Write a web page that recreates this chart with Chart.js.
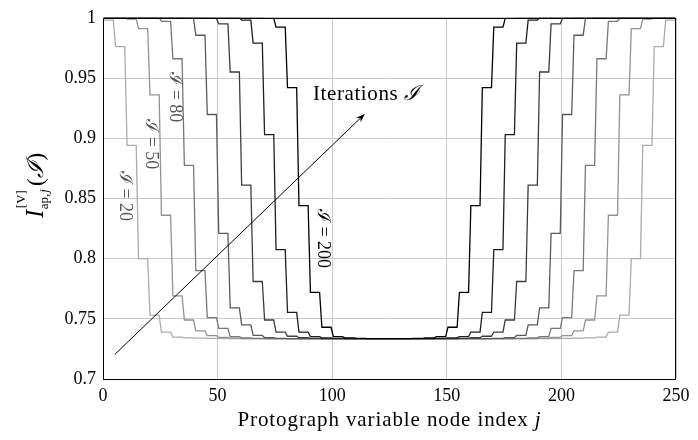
<!DOCTYPE html>
<html><head><meta charset="utf-8">
<script src="https://cdn.jsdelivr.net/npm/chart.js@4/dist/chart.umd.min.js"></script>
<style>html,body{margin:0;padding:0;background:#fff}</style>
</head><body>
<canvas id="c" width="698" height="440"></canvas>
<script>
// ---- data ----
const xTicks = [0, 50, 100, 150, 200, 250];
const yTicks = [0.7, 0.75, 0.8, 0.85, 0.9, 0.95, 1];
const BLOCK = 5; // variable nodes per protograph position (block j = nodes 5k..5k+5)

// mutual information per block of 5 variable nodes (50 blocks)
const I20 = [0.998,0.976,0.894,0.800,0.753,0.739,0.7348,0.7342,0.7339,0.7337,0.7336,
 0.7335,0.7335,0.7335,0.7335,0.7335,0.7335,0.7335,0.7335,0.7335,0.7335,0.7335,0.7335,0.7335,0.7335,
 0.7335,0.7335,0.7335,0.7335,0.7335,0.7335,0.7335,0.7335,0.7335,0.7335,0.7335,0.7335,0.7335,0.7335,
 0.7336,0.7337,0.7339,0.7342,0.7348,0.739,0.753,0.800,0.894,0.976,0.998];
const I50 = [1,1,0.999,0.991,0.936,0.836,0.769,0.749,0.740,0.736,0.7345,0.734,
 0.7335,0.7335,0.7335,0.7335,0.7335,0.7335,0.7335,0.7335,0.7335,0.7335,0.7335,0.7335,0.7335,
 0.7335,0.7335,0.7335,0.7335,0.7335,0.7335,0.7335,0.7335,0.7335,0.7335,0.7335,0.7335,0.7335,
 0.734,0.7345,0.736,0.740,0.749,0.769,0.836,0.936,0.991,0.999,1,1];
const I80 = [1,1,1,1,1,0.997,0.966,0.8775,0.790,0.751,0.742,0.7352,0.7342,0.7338,
 0.7335,0.7335,0.7335,0.7335,0.7335,0.7335,0.7335,0.7335,0.7335,0.7335,0.7335,
 0.7335,0.7335,0.7335,0.7335,0.7335,0.7335,0.7335,0.7335,0.7335,0.7335,0.7335,
 0.7338,0.7342,0.7352,0.742,0.751,0.790,0.8775,0.966,0.997,1,1,1,1,1];
const I110 = [1,1,1,1,1,1,1,0.9995,0.9855,0.9197,0.821,0.759,0.745,0.7362,0.7343,0.7338,
 0.7335,0.7335,0.7335,0.7335,0.7335,0.7335,0.7335,0.7335,0.7335,
 0.7335,0.7335,0.7335,0.7335,0.7335,0.7335,0.7335,0.7335,0.7335,
 0.7338,0.7343,0.7362,0.745,0.759,0.821,0.9197,0.9855,0.9995,1,1,1,1,1,1,1];
const I140 = [1,1,1,1,1,1,1,1,1,0.9995,0.995,0.955,0.861,0.781,0.749,0.739,0.7355,0.7343,0.7338,
 0.7335,0.7335,0.7335,0.7335,0.7335,0.7335,0.7335,0.7335,0.7335,0.7335,0.7335,0.7335,
 0.7338,0.7343,0.7355,0.739,0.749,0.781,0.861,0.955,0.995,0.9995,1,1,1,1,1,1,1,1,1];
const I170 = [1,1,1,1,1,1,1,1,1,1,1,1,0.998,0.979,0.903,0.8074,0.7553,0.739,0.7352,0.7342,0.7338,
 0.7335,0.7335,0.7335,0.7335,0.7335,0.7335,0.7335,0.7335,
 0.7338,0.7342,0.7352,0.739,0.7553,0.8074,0.903,0.979,0.998,1,1,1,1,1,1,1,1,1,1,1,1];
const I200 = [1,1,1,1,1,1,1,1,1,1,1,1,1,1,0.9995,0.9923,0.942,0.844,0.772,0.743,0.7352,0.7342,0.7338,
 0.7335,0.7335,0.7335,0.7335,
 0.7338,0.7342,0.7352,0.743,0.772,0.844,0.942,0.9923,0.9995,1,1,1,1,1,1,1,1,1,1,1,1,1,1];

const iterationLabels = ['200','170','140','110','80','50','20'];
const iterationSeries = [I200, I170, I140, I110, I80, I50, I20];
const seriesColors = ['#000000','#1e1e1e','#3c3c3c','#5a5a5a','#787878','#939393','#ababab'];

// annotations (data coordinates)
const arrowFrom = [5.2, 0.7205];
const arrowTo = [114.3, 0.9203];
const iterText = {x: 91.6, y: 0.9318, text: 'Iterations '};
const curveLabels = [
  {x: 9.6,  y: 0.852,  text: 'ℐ = 20'},
  {x: 20.7, y: 0.895,  text: 'ℐ = 50'},
  {x: 31.2, y: 0.934,  text: 'ℐ = 80'},
  {x: 96.0, y: 0.8167, text: 'ℐ = 200'}
];

const SERIF = '"Liberation Serif", "Times New Roman", serif';

function blockPoints(vals) {
  const pts = [];
  vals.forEach((v, k) => {
    pts.push({x: k * BLOCK + 0.5, y: v});
    pts.push({x: k * BLOCK + BLOCK - 0.5, y: v});
  });
  return pts;
}

const datasets = iterationSeries.map((s, i) => ({
  label: 'ℐ = ' + iterationLabels[i],
  data: blockPoints(s),
  borderColor: seriesColors[i],
  borderWidth: 1.3,
  pointRadius: 0,
  tension: 0,
  fill: false
}));

const decor = {
  id: 'decor',
  afterDatasetsDraw(chart) {
    const {ctx, chartArea: a, scales: {x, y}} = chart;
    ctx.save();
    // frame
    ctx.strokeStyle = '#000'; ctx.lineWidth = 1;
    ctx.strokeRect(Math.round(a.left) + 0.5, Math.round(a.top) + 0.5,
                   Math.round(a.right - a.left) - 1 + 0, Math.round(a.bottom - a.top));
    // arrow
    const x0 = x.getPixelForValue(arrowFrom[0]), y0 = y.getPixelForValue(arrowFrom[1]);
    const x1 = x.getPixelForValue(arrowTo[0]), y1 = y.getPixelForValue(arrowTo[1]);
    const ang = Math.atan2(y1 - y0, x1 - x0);
    const L = 9, W = 3.2;
    ctx.beginPath(); ctx.moveTo(x0, y0);
    ctx.lineTo(x1 - Math.cos(ang) * L * 0.7, y1 - Math.sin(ang) * L * 0.7);
    ctx.lineWidth = 1; ctx.stroke();
    ctx.beginPath();
    ctx.moveTo(x1, y1);
    ctx.lineTo(x1 - Math.cos(ang) * L - Math.sin(ang) * W, y1 - Math.sin(ang) * L + Math.cos(ang) * W);
    ctx.lineTo(x1 - Math.cos(ang) * L * 0.7, y1 - Math.sin(ang) * L * 0.7);
    ctx.lineTo(x1 - Math.cos(ang) * L + Math.sin(ang) * W, y1 - Math.sin(ang) * L - Math.cos(ang) * W);
    ctx.closePath(); ctx.fillStyle = '#000'; ctx.fill();
    // Iterations text
    ctx.fillStyle = '#000';
    ctx.textBaseline = 'alphabetic'; ctx.textAlign = 'left';
    try { ctx.letterSpacing = '0.6px'; } catch (e) {}
    ctx.font = '21px ' + SERIF;
    const tx = x.getPixelForValue(iterText.x), ty = y.getPixelForValue(iterText.y);
    ctx.fillText(iterText.text, tx, ty);
    const tw = ctx.measureText(iterText.text).width;
    ctx.font = 'italic 21px ' + SERIF;
    ctx.fillText('ℐ', tx + tw, ty);
    try { ctx.letterSpacing = '0px'; } catch (e) {}
    // rotated curve labels
    ctx.font = '18px ' + SERIF;
    ctx.textAlign = 'center'; ctx.textBaseline = 'middle';
    curveLabels.forEach((l, i) => {
      ctx.save();
      ctx.translate(x.getPixelForValue(l.x), y.getPixelForValue(l.y));
      ctx.rotate(Math.PI / 2);
      ctx.fillStyle = i === 3 ? '#000' : '#555';
      ctx.fillText(l.text, 0, 0);
      ctx.restore();
    });
    ctx.restore();

    // x axis title
    ctx.save();
    ctx.fillStyle = '#000';
    try { ctx.letterSpacing = '0.9px'; } catch (e) {}
    ctx.font = '21px ' + SERIF;
    ctx.textBaseline = 'alphabetic'; ctx.textAlign = 'left';
    const t1 = 'Protograph variable node index ';
    const w1 = ctx.measureText(t1).width;
    ctx.font = 'italic 21px ' + SERIF;
    const w2 = ctx.measureText('j').width;
    const cx = (a.left + a.right) / 2;
    const sx = cx - (w1 + w2) / 2;
    ctx.font = '21px ' + SERIF;
    ctx.fillText(t1, sx, 426);
    ctx.font = 'italic 21px ' + SERIF;
    ctx.fillText('j', sx + w1, 426);
    try { ctx.letterSpacing = '0px'; } catch (e) {}
    ctx.restore();

    // y axis title: I^{[V]}_{ap,j}(ℐ)
    ctx.save();
    ctx.fillStyle = '#000';
    const cy = (a.top + a.bottom) / 2;
    ctx.translate(43, 218);
    ctx.rotate(-Math.PI / 2);
    ctx.textBaseline = 'alphabetic'; ctx.textAlign = 'left';
    ctx.font = 'italic 25px ' + SERIF;
    ctx.fillText('I', 0, 0);
    let p = ctx.measureText('I').width + 1.5;
    ctx.font = '13px ' + SERIF;
    ctx.fillText('[V]', p, -18);
    const supW = ctx.measureText('[V]').width;
    ctx.fillText('ap,', p - 1, 5);
    let subW = ctx.measureText('ap,').width;
    ctx.font = 'italic 13px ' + SERIF;
    ctx.fillText('j', p - 1 + subW + 1, 5);
    subW += ctx.measureText('j').width + 1;
    p += Math.max(supW, subW) + 2;
    ctx.font = '23px ' + SERIF;
    ctx.fillText('(', p, 0);
    p += ctx.measureText('(').width;
    ctx.font = 'italic 23px ' + SERIF;
    ctx.fillText('ℐ', p, 0);
    p += ctx.measureText('ℐ').width + 1;
    ctx.font = '23px ' + SERIF;
    ctx.fillText(')', p, 0);
    ctx.restore();
  }
};

new Chart(document.getElementById('c'), {
  type: 'line',
  data: {datasets},
  plugins: [decor],
  options: {
    responsive: false,
    animation: false,
    devicePixelRatio: 1,
    layout: {padding: {left: 0, right: 22, top: 14, bottom: 0}},
    plugins: {legend: {display: false}, tooltip: {enabled: false}},
    scales: {
      x: {
        type: 'linear', min: 0, max: 250,
        afterBuildTicks: s => { s.ticks = xTicks.map(v => ({value: v})); },
        afterFit: s => { s.height = 61; },
        ticks: {color: '#000', font: {family: SERIF, size: 18}, padding: 6, maxRotation: 0,
                callback: v => String(v)},
        grid: {color: '#cccccc', lineWidth: 1, drawTicks: false},
        border: {display: false}
      },
      y: {
        type: 'linear', min: 0.7, max: 1,
        afterBuildTicks: s => { s.ticks = yTicks.map(v => ({value: v})); },
        afterFit: s => { s.width = 103; },
        ticks: {color: '#000', font: {family: SERIF, size: 18}, padding: 7,
                callback: v => String(+v.toFixed(2))},
        grid: {color: '#cccccc', lineWidth: 1, drawTicks: false},
        border: {display: false}
      }
    }
  }
});
</script>
</body></html>
